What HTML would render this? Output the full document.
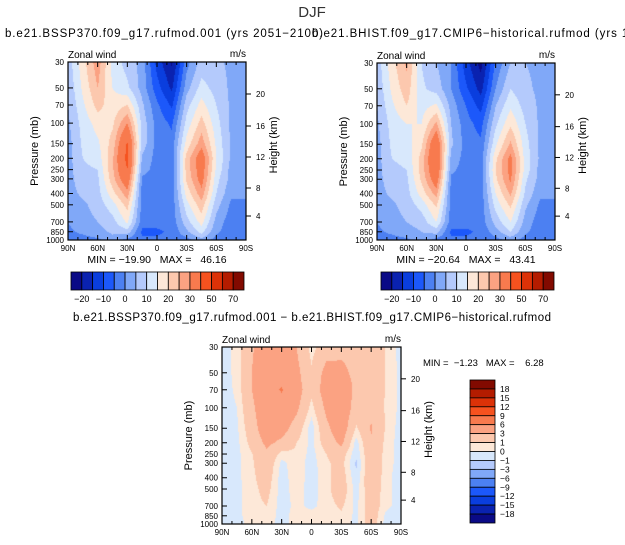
<!DOCTYPE html>
<html><head><meta charset="utf-8"><style>
html,body{margin:0;padding:0;background:#fff;}
#wrap{position:relative;width:625px;height:545px;overflow:hidden;font-family:"Liberation Sans",sans-serif;}
canvas{position:absolute;}
svg{position:absolute;left:0;top:0;}
</style></head><body>
<div id="wrap">
<canvas id="c1" width="178" height="178" style="left:68px;top:62px"></canvas>
<canvas id="c2" width="178" height="177" style="left:377px;top:63px"></canvas>
<canvas id="c3" width="179" height="177" style="left:222px;top:347px"></canvas>
<svg id="ov" width="625" height="545"></svg>
</div>
<script>
// ---- data ----
const lats = ['90N','75N','60N','45N','30N','15N','0','15S','30S','45S','60S','75S','90S'];
const levels = [1000,850,700,500,400,300,250,200,150,100,70,50,30];
const pressureTicks = [30,50,70,100,150,200,250,300,400,500,700,850,1000];
const latTickLabels = ['90N','60N','30N','0','30S','60S','90S'];
const heightTicks = [4,8,12,16,20];
const absBounds = [-20,-15,-10,-5,0,5,10,15,20,25,30,40,50,60,70];
const absLabels = ['-20','-10','0','10','20','30','50','70'];
const diffBounds = [-18,-15,-12,-9,-6,-3,-1,0,1,3,6,9,12,15,18];
const palette = ['#0a0a86','#0a22b0','#0a3ede','#1c58fa','#4c80f2','#80a8f8','#b4cafc','#d8e8fc','#fde8d8','#fcc8ae','#fba282','#f87a4e','#f6521f','#dc3208','#b41c00','#820a00'];
// rows = levels (1000 -> 30), columns = lats (90N -> 90S)
const sspU = [
[-2,-2,-1,3,-2,-4,-4,-3,-2,3,-2,-3,-2],
[-1,1,3,6,8,-6,-6,-4,4,12,1,-3,-2],
[0,3,5,8,16,-3,-3,-3,8,17,3,-3,-2],
[2,4,7,13,22,-2,-2,-3,13,23,7,-1,-1],
[3,6,8,18,28,-2,-2,-3,17,28,10,1,1],
[3,8,9,23,36,-1,-2,-3,21,33,12,3,2],
[3,9,10,24,40,2,-2,-3,22,34,14,3,2],
[3,10,12,24,43,4,-2,-3,22,35,15,4,2],
[3,11,14,22,41,8,-2,-3,17,28,14,4,2],
[4,12,17,19,30,8,-2,-6,12,22,12,4,2],
[5,14,22,17,20,6,-4,-11,8,17,10,4,2],
[6,16,25,15,11,3,-8,-16,3,12,8,4,2],
[7,18,28,13,8,3,-12,-21,-2,7,6,4,2]];
const histU = [
[-2,-2,-1,3,-2,-4,-4,-3,-2,2,-2,-3,-2],
[-1,1,3,5,7,-6,-6,-4,3,10,1,-3,-2],
[0,3,5,7,15,-3,-3,-3,7,15,3,-3,-2],
[2,4,7,12,21,-2,-2,-3,12,21,6,-1,-1],
[3,6,8,17,27,-2,-2,-3,15,26,9,1,1],
[3,8,9,21,35,-1,-2,-3,19,31,11,3,2],
[3,9,10,22,38,1,-2,-3,20,32,13,3,2],
[3,10,11,22,40,3,-2,-3,19,32,13,4,2],
[3,11,13,19,38,6,-2,-4,14,26,12,4,2],
[4,12,15,15,26,5,-3,-7,9,19,10,4,2],
[5,14,20,13,16,3,-5,-12,5,14,8,4,2],
[6,16,23,11,8,0,-9,-17,0,10,6,4,2],
[7,18,26,10,5,0,-13,-22,-4,5,5,4,2]];
const diffU = [
[-0.5,-0.5,0.5,0.5,-0.5,0.5,0.5,0.5,0.5,-0.3,2,-0.5,-0.5],
[-0.5,-0.3,0.5,0.8,-0.5,0.5,0.5,0.5,0.8,-0.3,2,-0.3,-0.5],
[-0.5,-0.3,0.6,1.0,-0.5,0.3,-0.3,0.5,1.2,-0.3,2,0.3,-0.5],
[-0.5,-0.3,0.6,1.5,-0.5,0.5,-0.5,0.6,2.0,-0.5,2.2,0.3,-0.5],
[-0.5,-0.3,0.7,1.8,-0.5,0.6,-0.5,0.6,1.8,-0.8,2.5,0.3,-0.5],
[-0.5,-0.3,0.8,2.2,-0.3,0.6,-0.5,0.8,1.5,-1.2,2.5,0.5,-0.5],
[-0.5,-0.3,0.9,2.6,0.5,0.8,-0.4,1,1.8,-0.8,2.5,0.5,-0.5],
[-0.5,-0.3,1.5,3.5,2.5,1,-0.3,1.8,3.5,-0.5,2.8,0.6,-0.5],
[-0.5,-0.2,2,4.5,4,2,-0.6,2.5,4.5,0.8,3.2,0.8,-0.5],
[-0.5,0,2.5,5,5,3.5,0.5,3.5,4.8,2.0,2.5,0.8,-0.3],
[-0.5,0.2,3,5,6.2,4,1.5,4.2,4.5,2.5,2.0,0.9,-0.3],
[-0.5,0.3,3,4.8,4.8,3.6,1.2,3.8,3.5,2.5,2.0,0.9,-0.3],
[-0.5,0.3,2.8,4,3.8,3,0.5,2,2.5,2.5,2.0,0.9,-0.5]];

// ---- helpers ----
const LP0 = Math.log(1000), LSPAN = Math.log(1000/30);
function yFrac(p){ return Math.log(1000/p)/LSPAN; }
function binIndex(v,b){ let i=0; while(i<b.length && v>=b[i]) i++; return i; }
function sample(grid, fx, lp){
  const ci = Math.min(lats.length-1.0001, Math.max(0, fx*(lats.length-1)));
  const c0 = Math.floor(ci), tc = ci-c0;
  const lpl = levels.map(p=>Math.log(p));
  let r=0; while(r<levels.length-2 && lp < lpl[r+1]) r++;
  let tr = (lpl[r]-lp)/(lpl[r]-lpl[r+1]); tr=Math.max(0,Math.min(1,tr));
  const a=grid[r][c0]*(1-tc)+grid[r][c0+1]*tc;
  const b=grid[r+1][c0]*(1-tc)+grid[r+1][c0+1]*tc;
  return a*(1-tr)+b*tr;
}
function drawField(id, grid, bounds){
  const cv=document.getElementById(id), ctx=cv.getContext('2d');
  const W=cv.width,H=cv.height;
  for(let y=0;y<H;y++){
    const frac=(H-0.5-y)/H; const lp=LP0-frac*LSPAN;
    for(let x=0;x<W;x++){
      const v=sample(grid,(x+0.5)/W,lp);
      ctx.fillStyle=palette[binIndex(v,bounds)];
      ctx.fillRect(x,y,1,1);
    }
  }
}
drawField('c1',sspU,absBounds);
drawField('c2',histU,absBounds);
drawField('c3',diffU,diffBounds);

const NS='http://www.w3.org/2000/svg';
const ov=document.getElementById('ov');
function el(tag,attrs,parent){const e=document.createElementNS(NS,tag);for(const k in attrs)e.setAttribute(k,attrs[k]);(parent||ov).appendChild(e);return e;}
function txt(s,x,y,size,anchor,parent,extra){const t=el('text',Object.assign({x:x,y:y,'font-size':size,'text-anchor':anchor||'start','font-family':'Liberation Sans, sans-serif',fill:'#000',style:'white-space:pre'},extra||{}),parent);t.textContent=s;return t;}

const heightOffsets=[154,126,95,64,32];

function axes(x0,y0,W,H,name){
  const g=el('g',{});
  
  
  el('rect',{x:x0,y:y0,width:W,height:H,fill:'none',stroke:'#000','stroke-width':1.2},g);
  for(let d=0; d<=180; d+=10){
    const x=x0+d/180*W, major=d%30===0, L=major?5:3;
    el('line',{x1:x,y1:y0+H,x2:x,y2:y0+H-L,stroke:'#000'},g);
    el('line',{x1:x,y1:y0,x2:x,y2:y0+L,stroke:'#000'},g);
  }
  latTickLabels.forEach((s,i)=>{
    const t=txt(s,x0+i*W/6,y0+H+11,8,'middle',g);
    
    
  });
  pressureTicks.forEach(p=>{
    const y=y0+H-yFrac(p)*H;
    el('line',{x1:x0,y1:y,x2:x0+5,y2:y,stroke:'#000'},g);
    const t=txt(String(p),x0-4,y+3,8,'end',g);
    
    
  });
  heightTicks.forEach((h,i)=>{
    const y=y0+heightOffsets[i]*H/178;
    el('line',{x1:x0+W,y1:y,x2:x0+W+5,y2:y,stroke:'#000'},g);
    const t=txt(String(h),x0+W+10,y+3,8,'start',g);
    
    
  });
  const yt=txt('Pressure (mb)',0,0,11,'middle',g,{transform:`translate(${x0-30},${y0+H/2}) rotate(-90)`});
  
  
  const ht=txt('Height (km)',0,0,11,'middle',g,{transform:`translate(${x0+W+31},${y0+H/2-6}) rotate(-90)`});
  
  
  const zt=txt('Zonal wind',x0,y0-4,10,'start',g);
  
  
  const ut=txt('m/s',x0+W,y0-5,10,'end',g);
  
  
}
axes(68,62,178,178,'ssp370');
axes(377,63,178,177,'historical');
axes(222,347,179,177,'difference');

function hbar(x0,y0){
  const g=el('g',{});
  
  
  const bw=173/16;
  palette.forEach((c,i)=>{
    const r=el('rect',{x:x0+i*bw,y:y0,width:bw,height:18,fill:c,stroke:'#000','stroke-width':0.8},g);
    
    
  });
  absLabels.forEach((s,i)=>{
    txt(s.replace('-','\u2212'),x0+(2*i+1)*bw,y0+30,9,'middle',g);
  });
}
hbar(71,272); hbar(381,272);

(function vbar(){
  const x0=470,y0=380,bh=143/16;
  const g=el('g',{});
  
  
  palette.slice().reverse().forEach((c,i)=>{
    const r=el('rect',{x:x0,y:y0+i*bh,width:25,height:bh,fill:c,stroke:'#000','stroke-width':0.8},g);
    
    
  });
  diffBounds.slice().reverse().forEach((b,i)=>{
    txt(String(b).replace('-','\u2212'),x0+30,y0+(i+1)*bh+3,8.5,'start',g);
  });
})();

let t;
t=txt('DJF',312,17,15,'middle',null,{fill:'#333'});  
t=txt('b.e21.BSSP370.f09_g17.rufmod.001 (yrs 2051\u22122100)',5,37,11.5,'start',null,{textLength:318});  
t=txt('b.e21.BHIST.f09_g17.CMIP6\u2212historical.rufmod (yrs 1965\u22122014)',312,37,11.5,'start',null,{textLength:380});  
t=txt('b.e21.BSSP370.f09_g17.rufmod.001 \u2212 b.e21.BHIST.f09_g17.CMIP6\u2212historical.rufmod',312,321,11.5,'middle',null,{textLength:478});  
t=txt('MIN = \u221219.90   MAX =   46.16',157,263,10.5,'middle');  
t=txt('MIN = \u221220.64   MAX =   43.41',466,263,10.5,'middle');  
t=txt('MIN =  \u22121.23   MAX =    6.28',423,366,9.5,'start');  
</script>
</body></html>
